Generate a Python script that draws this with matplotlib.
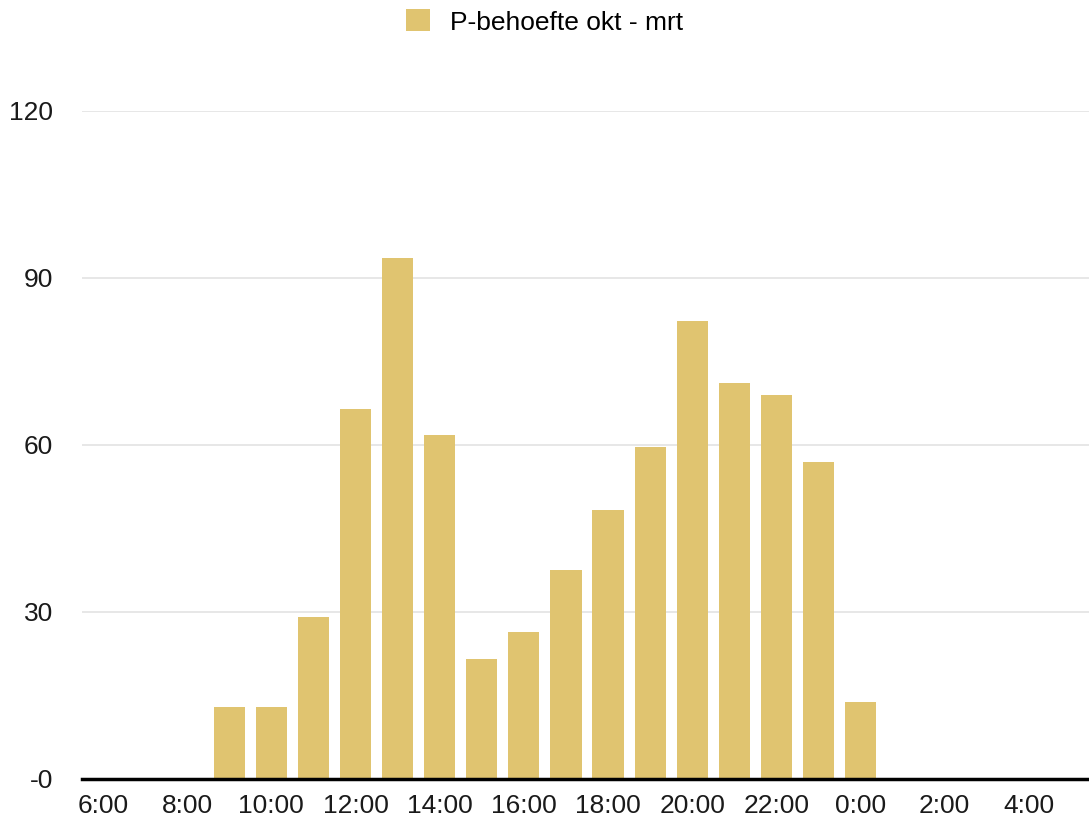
import matplotlib
matplotlib.use("Agg")
from matplotlib import pyplot as plt
import numpy as np

# categorieen: uren van 6:00 tot 5:00
hours = ["6:00", "7:00", "8:00", "9:00", "10:00", "11:00", "12:00", "13:00",
         "14:00", "15:00", "16:00", "17:00", "18:00", "19:00", "20:00", "21:00",
         "22:00", "23:00", "0:00", "1:00", "2:00", "3:00", "4:00", "5:00"]
# P-behoefte okt - mrt
values = [0, 0, 0, 13, 13, 29, 66.4, 93.5, 61.7, 21.6, 26.3, 37.5,
          48.3, 59.6, 82.3, 71.0, 68.9, 56.9, 13.8, 0, 0, 0, 0, 0]
y_ticks = [0, 30, 60, 90, 120]
y_labels = ["-0", "30", "60", "90", "120"]
series_name = "P-behoefte okt - mrt"

plt.rcParams['font.family'] = ['Liberation Sans', 'DejaVu Sans']

fig = plt.figure(figsize=(10.89, 8.23), dpi=100)
ax = fig.add_axes([82 / 1089, 44 / 823, 1010 / 1089, 668.5 / 823])

x = np.arange(len(hours))
bars = ax.bar(x, values, width=0.74, color='#E0C470', zorder=2, label=series_name)

ax.set_xlim(-0.5, len(hours) - 0.5)
ax.set_ylim(0, 120)
ax.set_yticks(y_ticks)
ax.set_yticklabels(y_labels)
ax.set_xticks(x[::2])
ax.set_xticklabels(hours[::2])

ax.grid(axis='y', color='#e3e3e3', linewidth=1.2, zorder=0)
ax.tick_params(axis='both', length=0, labelsize=19, colors='#1a1a1a')
ax.tick_params(axis='y', pad=21)
ax.tick_params(axis='x', pad=11)
for side in ['top', 'right', 'left']:
    ax.spines[side].set_visible(False)
ax.spines['bottom'].set_linewidth(2.5)
ax.spines['bottom'].set_color('black')
ax.spines['bottom'].set_zorder(3)

fig.legend(handles=[bars], labels=[series_name], loc='center',
           bbox_to_anchor=(0.5, 1 - 22 / 823), frameon=False, fontsize=19,
           handlelength=0.9, handleheight=0.9, handletextpad=0.75)

plt.savefig("out.png", dpi=100)
